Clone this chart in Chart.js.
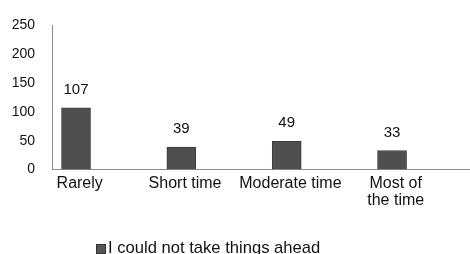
<!DOCTYPE html>
<html><head><meta charset="utf-8">
<script src="https://cdn.jsdelivr.net/npm/chart.js@4/dist/chart.umd.min.js"></script>
<style>
html,body{margin:0;padding:0;background:#fff;}
#wrap{position:relative;width:470px;height:254px;overflow:hidden;}
#legend{position:absolute;left:96px;top:238px;font:16.6px "Liberation Sans",Arial,sans-serif;color:#111;white-space:nowrap;}
#legend span.box{display:inline-block;width:8px;height:8px;background:#555;border:1px solid #333;margin-right:2px;vertical-align:-1px;}
</style></head>
<body><div id="wrap"><canvas id="c" width="470" height="254"></canvas>
<div id="legend"><span class="box"></span>I could not take things ahead</div></div>
<script>
const categories = ["Rarely", "Short time", "Moderate time", ["Most of", "the time"]];
const seriesName = "I could not take things ahead";
const values = [107, 39, 49, 33];
const yTicks = [0, 50, 100, 150, 200, 250];

const valueLabels = {
  id: 'valueLabels',
  afterDatasetsDraw(chart) {
    const ctx = chart.ctx;
    const meta = chart.getDatasetMeta(0);
    ctx.save();
    ctx.font = '15px "Liberation Sans", Arial, sans-serif';
    ctx.fillStyle = '#111';
    ctx.textAlign = 'center';
    ctx.textBaseline = 'middle';
    meta.data.forEach((el, i) => {
      ctx.fillText(String(values[i]), el.x, el.y - 18);
    });
    ctx.restore();
  }
};

function barFill(ctx) {
  const el = ctx.element;
  if (!el || el.x === undefined || !isFinite(el.x)) return '#4f4f4f';
  const g = ctx.chart.ctx.createLinearGradient(el.x - 14.5, 0, el.x + 14.5, 0);
  g.addColorStop(0, '#5e5e5e');
  g.addColorStop(0.15, '#4c4c4c');
  g.addColorStop(0.85, '#4c4c4c');
  g.addColorStop(1, '#5e5e5e');
  return g;
}

new Chart(document.getElementById('c'), {
  type: 'bar',
  data: {
    datasets: [{
      label: seriesName,
      data: values.map((v, i) => ({x: i, y: v})),
      backgroundColor: barFill,
      borderColor: '#3a3a3a',
      borderWidth: 1,
      barThickness: 29
    }]
  },
  options: {
    responsive: false,
    animation: false,
    layout: {padding: {top: 23, right: 0, bottom: 0, left: 0}},
    plugins: {legend: {display: false}, tooltip: {enabled: false}},
    scales: {
      x: {
        type: 'linear',
        offset: false,
        min: -0.228, max: 3.74,
        afterBuildTicks: s => { s.ticks = categories.map((c, i) => ({value: i + 0.035})); },
        afterFit: s => { s.height = 254 - 23 - 146.5; },
        grid: {display: false, drawTicks: false},
        border: {color: '#8c8c8c'},
        ticks: {
          callback: (v, idx) => categories[idx],
          autoSkip: false, maxRotation: 0, padding: 5,
          color: '#111',
          font: {family: '"Liberation Sans", Arial, sans-serif', size: 16, lineHeight: 1.1}
        }
      },
      y: {
        min: 0, max: 250,
        afterBuildTicks: s => { s.ticks = yTicks.map(v => ({value: v})); },
        afterFit: s => { s.width = 52; },
        grid: {display: false, drawTicks: false},
        border: {color: '#8c8c8c'},
        ticks: {
          padding: 17, color: '#111',
          font: {family: '"Liberation Sans", Arial, sans-serif', size: 14}
        }
      }
    }
  },
  plugins: [valueLabels]
});
</script></body></html>
